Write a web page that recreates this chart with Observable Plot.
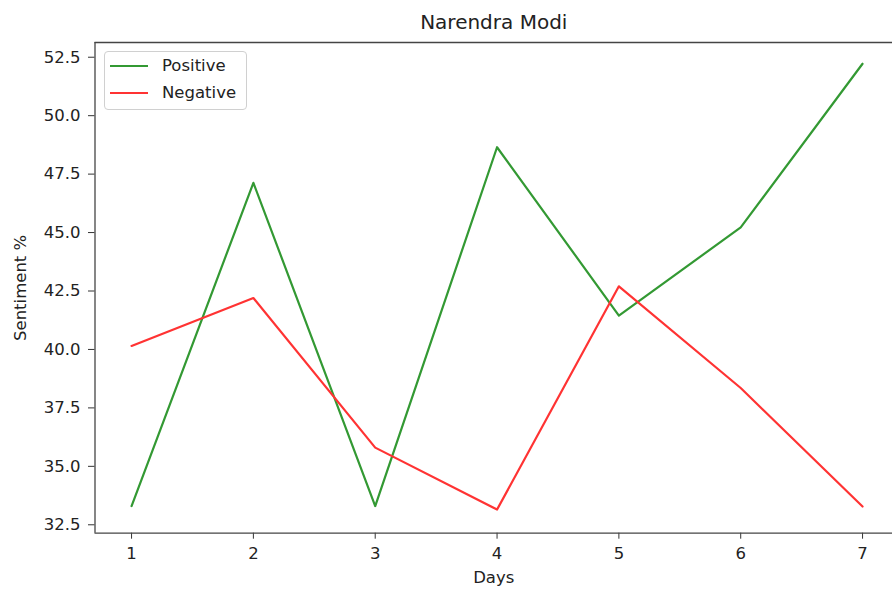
<!DOCTYPE html>
<html>
<head>
<meta charset="utf-8">
<script src="https://cdn.jsdelivr.net/npm/d3@7"></script>
<script src="https://cdn.jsdelivr.net/npm/@observablehq/plot@0.6"></script>
<style>
  html, body { margin: 0; padding: 0; background: white; }
  #wrap { position: relative; width: 892px; height: 590px; overflow: hidden; font-family: "DejaVu Sans", sans-serif; }
  #legend { position: absolute; left: 104px; top: 51px; width: 143px; height: 59px; box-sizing: border-box;
    border: 1px solid #d0d0d0; border-radius: 4px; background: rgba(255,255,255,0.8); }
  .item { position: absolute; left: 0; height: 20px; font-size: 16.5px; color: #222; white-space: nowrap; }
  .item .sw { position: absolute; left: 5px; top: 9px; width: 38px; height: 0; border-top: 2.2px solid; }
  .item .lb { position: absolute; left: 57px; top: 0; line-height: 20px; }
</style>
</head>
<body>
<div id="wrap"></div>
<script>
const title = "Narendra Modi";
const xLabel = "Days";
const yLabel = "Sentiment %";
const days = [1, 2, 3, 4, 5, 6, 7];
const positive = [33.3, 47.13, 33.3, 48.65, 41.45, 45.22, 52.22];
const negative = [40.15, 42.2, 35.8, 33.15, 42.7, 38.35, 33.28];
const yTicks = [32.5, 35.0, 37.5, 40.0, 42.5, 45.0, 47.5, 50.0, 52.5];
const seriesNames = ["Positive", "Negative"];
const seriesColors = ["#339933", "#ff3333"];
const xDomain = [0.7, 7.3];
const yDomain = [32.14, 53.13];

const posData = days.map((d, i) => ({day: d, value: positive[i]}));
const negData = days.map((d, i) => ({day: d, value: negative[i]}));

const chart = Plot.plot({
  width: 892,
  height: 590,
  marginLeft: 94.5,
  marginRight: 0,
  marginTop: 42,
  marginBottom: 57.3,
  style: {fontFamily: "DejaVu Sans", fontSize: "16.5px", color: "#222", background: "white"},
  x: {domain: xDomain, range: [94.5, 898.6]},
  y: {domain: yDomain, range: [532.7, 42]},
  marks: [
    Plot.axisX({ticks: days, tickFormat: d3.format("d"), tickSize: 6, tickPadding: 8, label: null, fontSize: 16.5, stroke: "#333"}),
    Plot.axisY({ticks: yTicks, tickFormat: d3.format(".1f"), tickSize: 6.5, tickPadding: 8, label: null, fontSize: 16.5, stroke: "#333"}),
    Plot.line(posData, {x: "day", y: "value", stroke: seriesColors[0], strokeWidth: 2.2}),
    Plot.line(negData, {x: "day", y: "value", stroke: seriesColors[1], strokeWidth: 2.2}),
    Plot.ruleX([xDomain[0]], {stroke: "#444", strokeWidth: 1.3}),
    Plot.ruleY(yDomain, {stroke: "#444", strokeWidth: 1.3}),
    Plot.text([title], {frameAnchor: "top", dy: -20, lineAnchor: "middle", fontSize: 20, fill: "#222"}),
    Plot.text([xLabel], {frameAnchor: "bottom", dy: 45, lineAnchor: "middle", fontSize: 16.5, fill: "#222"}),
    Plot.text([yLabel], {frameAnchor: "left", dx: -74, rotate: -90, textAnchor: "middle", lineAnchor: "middle", fontSize: 16.5, fill: "#222"})
  ]
});

const wrap = document.getElementById("wrap");
wrap.appendChild(chart);

const legend = document.createElement("div");
legend.id = "legend";
seriesNames.forEach((name, i) => {
  const item = document.createElement("div");
  item.className = "item";
  item.style.top = (4 + i * 27.3) + "px";
  const sw = document.createElement("div");
  sw.className = "sw";
  sw.style.borderTopColor = seriesColors[i];
  const lb = document.createElement("div");
  lb.className = "lb";
  lb.textContent = name;
  item.appendChild(sw);
  item.appendChild(lb);
  legend.appendChild(item);
});
wrap.appendChild(legend);
</script>
</body>
</html>
